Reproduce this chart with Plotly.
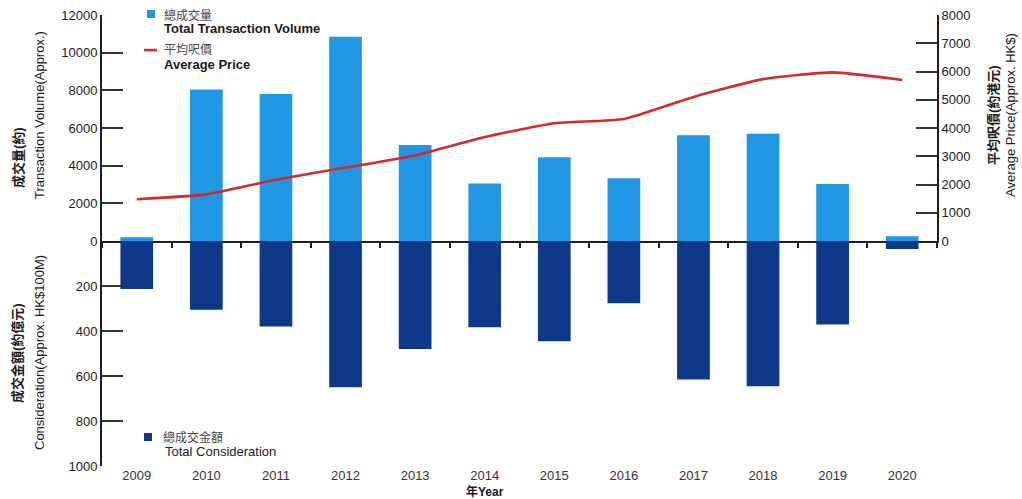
import plotly.graph_objects as go

# Data
years = ["2009", "2010", "2011", "2012", "2013", "2014",
         "2015", "2016", "2017", "2018", "2019", "2020"]
total_volume = [200, 8050, 7800, 10850, 5100, 3050, 4450, 3330, 5620, 5700, 3020, 250]
avg_price = [1480, 1650, 2170, 2600, 3030, 3680, 4170, 4320, 5100, 5730, 5970, 5700]
total_consideration = [213, 305, 380, 650, 480, 383, 445, 277, 615, 646, 371, 35]

vol_ticks = [0, 2000, 4000, 6000, 8000, 10000, 12000]
price_ticks = [0, 1000, 2000, 3000, 4000, 5000, 6000, 7000, 8000]
cons_ticks = [200, 400, 600, 800, 1000]

W, H = 1022, 499
LIGHT = "#2196e2"
DARK = "#0e388a"
RED = "#d42a2c"
AXIS = "#1e1e1e"
TXT = "#1a1a1a"
FONT = "Liberation Sans, Arial, Noto Sans CJK TC"
NARROW = "Liberation Sans Narrow, " + FONT

# layout geometry in pixels
x_left, x_right = 102, 937
y_top, y_zero, y_bottom = 15, 241, 466


def px_x(p):
    return p / W


def px_y(p):
    return 1 - p / H


xdom = [px_x(x_left), px_x(x_right)]
top_dom = [px_y(y_zero), px_y(y_top)]
bot_dom = [px_y(y_bottom), px_y(y_zero)]

fig = go.Figure()

fig.add_trace(go.Bar(
    x=years, y=total_volume, xaxis="x", yaxis="y",
    marker=dict(color=LIGHT, line=dict(width=0)), width=0.47,
    name="總成交量 Total Transaction Volume",
))
fig.add_trace(go.Scatter(
    x=years, y=avg_price, xaxis="x", yaxis="y2", mode="lines",
    line=dict(color=RED, width=2.6, shape="spline", smoothing=0.5),
    name="平均呎價 Average Price",
))
fig.add_trace(go.Bar(
    x=years, y=total_consideration, xaxis="x3", yaxis="y3",
    marker=dict(color=DARK, line=dict(width=0)), width=0.47,
    name="總成交金額 Total Consideration",
))

common_y = dict(showgrid=False, zeroline=False, showline=True, linecolor=AXIS,
                linewidth=2, ticks="inside", ticklen=21, tickwidth=2,
                tickcolor="#333333", tickformat="d",
                tickfont=dict(family=FONT, size=13, color=TXT))

fig.update_layout(
    width=W, height=H,
    margin=dict(l=0, r=0, t=0, b=0, autoexpand=False),
    paper_bgcolor="white", plot_bgcolor="rgba(0,0,0,0)",
    font=dict(family=FONT, size=12, color=TXT),
    showlegend=False,
    xaxis=dict(domain=xdom, anchor="y", type="category", range=[-0.5, 11.5],
               showgrid=False, zeroline=False, showline=True, linecolor=AXIS,
               linewidth=2, ticks="outside", tickson="boundaries", ticklen=5,
               tickwidth=2, tickcolor=AXIS, showticklabels=False),
    yaxis=dict(domain=top_dom, anchor="x", range=[0, 12000], tickvals=vol_ticks,
               **common_y),
    yaxis2=dict(overlaying="y", anchor="x", side="right", range=[0, 8000],
                tickvals=price_ticks, **common_y),
    xaxis2=dict(domain=xdom, anchor="y3", side="top", type="category",
                range=[-0.5, 11.5], showgrid=False, zeroline=False, showline=False,
                ticks="outside", tickson="boundaries", ticklen=5, tickwidth=2,
                tickcolor=AXIS, showticklabels=False),
    xaxis3=dict(domain=xdom, anchor="y3", overlaying="x2", side="bottom",
                type="category", range=[-0.5, 11.5], showgrid=False,
                zeroline=False, showline=False, ticks="",
                tickfont=dict(family=FONT, size=13, color="#333333")),
    yaxis3=dict(domain=bot_dom, anchor="x3", range=[1000, 0], tickvals=cons_ticks,
                **common_y),
)


def label(x, y, text, size=13, angle=0, family=FONT, xanchor="center", color=TXT):
    fig.add_annotation(x=px_x(x), y=px_y(y), xref="paper", yref="paper",
                       text=text, textangle=angle, showarrow=False,
                       xanchor=xanchor, yanchor="middle",
                       font=dict(family=family, size=size, color=color))


# axis titles
label(18, 158, "<b>成交量(約)</b>", angle=-90)
label(39, 115, "Transaction Volume(Approx.)", angle=-90)
label(17, 353, "<b>成交金額(約億元)</b>", angle=-90)
label(39, 353, "Consideration(Approx. HK$100M)", angle=-90, family=NARROW)
label(993, 115, "<b>平均呎價(約港元)</b>", angle=-90)
label(1010, 115, "Average Price(Approx. HK$)", angle=-90)
label(485, 491, "<b>年Year</b>", size=12)

# legend keys and labels
def key_box(cx, cy, color, half=4):
    fig.add_shape(type="rect", xref="paper", yref="paper",
                  x0=px_x(cx - half), x1=px_x(cx + half),
                  y0=px_y(cy + half), y1=px_y(cy - half),
                  fillcolor=color, line=dict(width=0))


key_box(151, 14, LIGHT)
label(162, 15, "總成交量", size=12, xanchor="left", color="#444444")
label(162, 29, "<b>Total Transaction Volume</b>", size=13, xanchor="left")
fig.add_shape(type="line", xref="paper", yref="paper",
              x0=px_x(144), x1=px_x(157), y0=px_y(50), y1=px_y(50),
              line=dict(color=RED, width=2.5))
label(162, 50, "平均呎價", size=12, xanchor="left", color="#444444")
label(162, 64, "<b>Average Price</b>", size=13, xanchor="left")

key_box(148, 437, DARK)
label(161, 437, "總成交金額", size=12, xanchor="left", color="#444444")
label(163, 451, "Total Consideration", size=13, xanchor="left")

fig.write_html("out.html")
